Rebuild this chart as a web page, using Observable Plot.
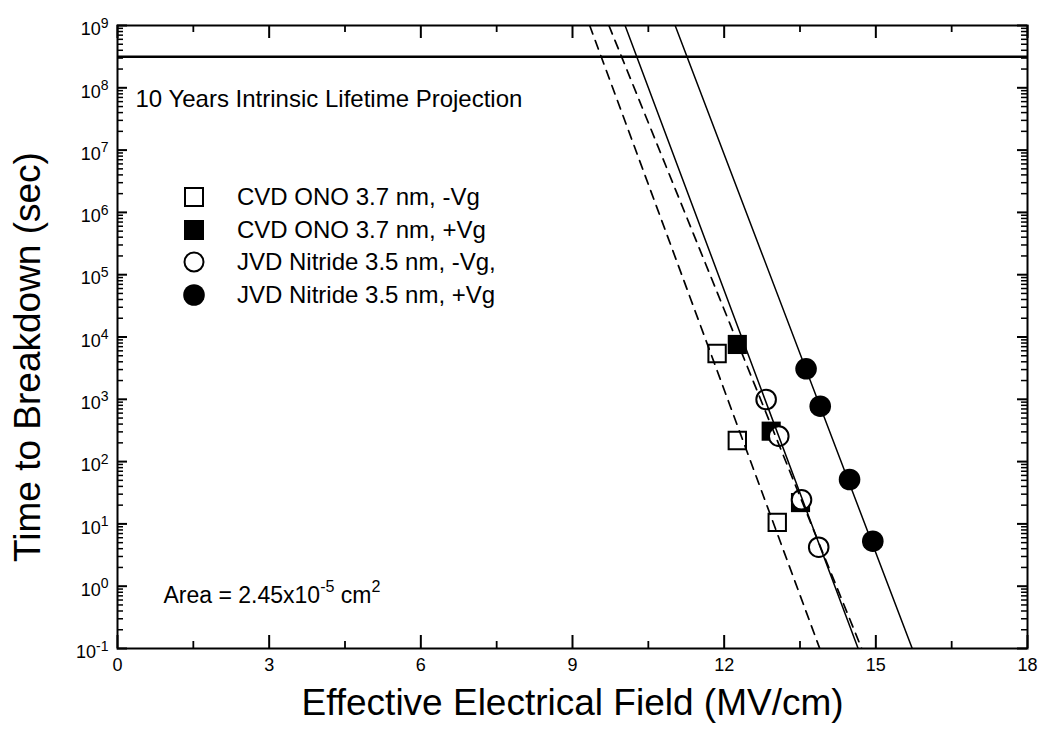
<!DOCTYPE html>
<html><head><meta charset="utf-8">
<script src="https://cdn.jsdelivr.net/npm/d3@7"></script>
<script src="https://cdn.jsdelivr.net/npm/@observablehq/plot@0.6"></script>
<style>
body{margin:0;background:#fff;font-family:"Liberation Sans",Arial,Helvetica,sans-serif;}
#chart{position:relative;width:1042px;height:736px;}
#legend{position:absolute;left:182px;top:181px;}
.row{display:flex;align-items:center;height:32.5px;font-size:24px;white-space:nowrap;color:#000;}
.row svg{width:24px;height:24px;margin-right:31px;flex:none;}
</style></head><body><div id="chart"></div>
<script>
// ---- data ----
const seriesLabels = ["CVD ONO 3.7 nm, -Vg", "CVD ONO 3.7 nm, +Vg", "JVD Nitride 3.5 nm, -Vg,", "JVD Nitride 3.5 nm, +Vg"];
const cvdNegE = [11.86, 12.26, 13.05];
const cvdNegT = [5430, 218, 10.6];
const cvdPosE = [12.26, 12.93, 13.51];
const cvdPosT = [7590, 308, 22];
const jvdNegE = [12.83, 13.08, 13.53, 13.87];
const jvdNegT = [993, 256, 24.4, 4.23];
const jvdPosE = [13.62, 13.90, 14.48, 14.94];
const jvdPosT = [3090, 775, 51.6, 5.27];
// projection lines: field at t = 1e9 s and at t = 0.1 s
const fitT = [1e9, 0.1];
const fitEHigh = [9.34, 9.72, 10.04, 11.03];
const fitELow = [13.89, 14.72, 14.65, 15.72];
const tenYears = 3.15e8;
const xMajorTicks = [0, 3, 6, 9, 12, 15, 18];
const xMinorTicks = [1.5, 4.5, 7.5, 10.5, 13.5, 16.5];
const yDecades = [-1, 0, 1, 2, 3, 4, 5, 6, 7, 8, 9];
const xTitle = "Effective Electrical Field (MV/cm)";
const yTitle = "Time to Breakdown (sec)";
const noteLifetime = "10 Years Intrinsic Lifetime Projection";
const noteArea = "Area = 2.45x10^{-5} cm^{2}";

// ---- build tables ----
const yMajor = yDecades.map(e => Math.pow(10, e));
const yMinor = [];
yDecades.slice(0, -1).forEach(e => { for (let k = 2; k <= 9; k++) yMinor.push(k * Math.pow(10, e)); });
const mk = (E, T, s) => E.map((e, i) => ({E: e, T: T[i], s}));
const cvdNeg = mk(cvdNegE, cvdNegT, 0), cvdPos = mk(cvdPosE, cvdPosT, 1);
const jvdNeg = mk(jvdNegE, jvdNegT, 2), jvdPos = mk(jvdPosE, jvdPosT, 3);
const fitLines = fitEHigh.map((e, i) => [{E: e, T: fitT[0], s: i}, {E: fitELow[i], T: fitT[1], s: i}]);

const W = 1042, H = 736, mL = 117, mR = 15, mT = 25, mB = 88;
const fH = H - mT - mB, fW = W - mL - mR;
const ff = "'Liberation Sans', Arial, Helvetica, sans-serif";

const chart = Plot.plot({
  width: W, height: H, marginLeft: mL, marginRight: mR, marginTop: mT, marginBottom: mB,
  style: {fontFamily: ff, background: "white", color: "black", overflow: "visible"},
  x: {domain: [0, 18]},
  y: {type: "log", domain: [0.1, 1e9]},
  marks: [
    Plot.tickX(xMajorTicks, {x: d => d, insetTop: fH - 13, strokeWidth: 2}),
    Plot.tickX(xMajorTicks, {x: d => d, insetBottom: fH - 13, strokeWidth: 2}),
    Plot.tickX(xMinorTicks, {x: d => d, insetTop: fH - 7, strokeWidth: 1.8}),
    Plot.tickX(xMinorTicks, {x: d => d, insetBottom: fH - 7, strokeWidth: 1.8}),
    Plot.tickY(yMajor, {y: d => d, insetRight: fW - 10, strokeWidth: 2}),
    Plot.tickY(yMajor, {y: d => d, insetLeft: fW - 10, strokeWidth: 2}),
    Plot.tickY(yMinor, {y: d => d, insetRight: fW - 6, strokeWidth: 1.5}),
    Plot.tickY(yMinor, {y: d => d, insetLeft: fW - 6, strokeWidth: 1.5}),
    Plot.axisX({ticks: xMajorTicks, tickSize: 0, tickPadding: 10, fontSize: 18, label: null}),
    Plot.axisY({ticks: yMajor, tickSize: 0, tickPadding: 9, fontSize: 18, label: null, dy: 4,
      tickFormat: d => "10^{" + Math.round(Math.log10(d)) + "}"}),
    Plot.ruleY([tenYears], {strokeWidth: 2.5}),
    Plot.dot(cvdPos, {x: "E", y: "T", symbol: "square", r: 10.8, fill: "black", stroke: "none"}),
    Plot.dot(cvdNeg, {x: "E", y: "T", symbol: "square", r: 9.8, fill: "white", stroke: "black", strokeWidth: 2}),
    Plot.dot(jvdNeg, {x: "E", y: "T", symbol: "circle", r: 9.8, fill: "white", stroke: "black", strokeWidth: 2}),
    Plot.dot(jvdPos, {x: "E", y: "T", symbol: "circle", r: 10.8, fill: "black", stroke: "none"}),
    ...fitLines.map((ln, i) => Plot.line(ln, {x: "E", y: "T", stroke: "black", strokeWidth: i < 2 ? 1.7 : 1.5,
      strokeDasharray: i < 2 ? "9,7" : null, clip: true})),
    Plot.frame({strokeWidth: 2}),
    Plot.text([noteLifetime], {frameAnchor: "top-left", dx: 18, dy: 64, fontSize: 24, textAnchor: "start"}),
    Plot.text([noteArea], {frameAnchor: "bottom-left", dx: 46, dy: -46, fontSize: 23, textAnchor: "start"}),
    Plot.text([xTitle], {frameAnchor: "bottom", dy: 66, fontSize: 37, textAnchor: "middle"}),
    Plot.text([yTitle], {frameAnchor: "left", dx: -89, dy: 20, fontSize: 37, rotate: -90, textAnchor: "middle"})
  ]
});

// superscripts
const NS = "http://www.w3.org/2000/svg";
function supify(el, scale, up) {
  const s = el.textContent;
  const parts = s.split(/\^\{([^}]*)\}/);
  if (parts.length === 1) return;
  const fs = parseFloat(getComputedStyle(el).fontSize) || 18;
  while (el.firstChild) el.removeChild(el.firstChild);
  let shifted = false;
  parts.forEach((p, i) => {
    if (p === "") return;
    const t = document.createElementNS(NS, "tspan");
    t.textContent = p;
    if (i % 2 === 1) {
      t.setAttribute("font-size", (fs * scale).toFixed(1));
      t.setAttribute("dy", (-fs * up).toFixed(1));
      shifted = true;
    } else if (shifted) {
      t.setAttribute("dy", (fs * up).toFixed(1));
      shifted = false;
    }
    el.appendChild(t);
  });
}

const holder = document.getElementById("chart");
holder.appendChild(chart);
chart.querySelectorAll("text").forEach(el => {
  if (el.textContent.includes("^{")) {
    const isTick = el.closest('g[aria-label="y-axis tick label"]');
    supify(el, isTick ? 0.78 : 0.7, isTick ? 0.42 : 0.45);
  }
});

// legend
const legend = document.createElement("div");
legend.id = "legend";
const sym = [
  '<rect x="3" y="3" width="18" height="18" fill="white" stroke="black" stroke-width="2"/>',
  '<rect x="2" y="2" width="20" height="20" fill="black"/>',
  '<circle cx="12" cy="12" r="9.5" fill="white" stroke="black" stroke-width="2"/>',
  '<circle cx="12" cy="12" r="10.8" fill="black"/>'
];
seriesLabels.forEach((lab, i) => {
  const row = document.createElement("div");
  row.className = "row";
  row.innerHTML = '<svg viewBox="0 0 24 24">' + sym[i] + '</svg>';
  const span = document.createElement("span");
  span.textContent = lab;
  row.appendChild(span);
  legend.appendChild(row);
});
holder.appendChild(legend);
</script></body></html>
